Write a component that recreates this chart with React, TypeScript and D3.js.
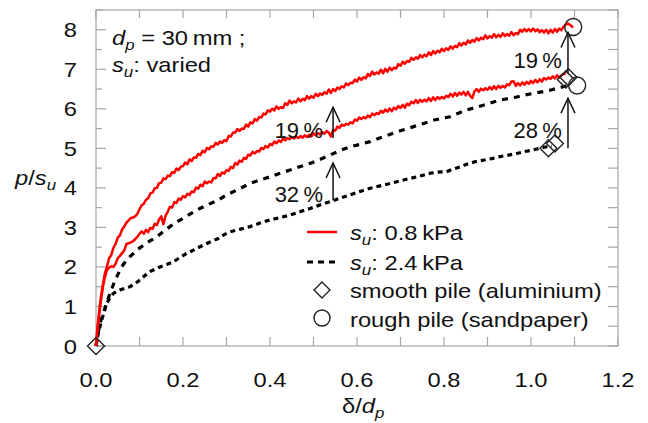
import React from "react";
import * as d3 from "d3";

const W = 648;
const H = 423;
const FONT = "'Liberation Sans', Arial, sans-serif";
const SX = 1.13; // horizontal stretch of the text in the reference

const xTicks = [0, 0.2, 0.4, 0.6, 0.8, 1.0, 1.2];
const yTicks = [0, 1, 2, 3, 4, 5, 6, 7, 8];

// su = 0.8 kPa, rough pile (sandpaper)
const redRough: [number, number][] = [[0,0],[0.004,0.55],[0.008,0.95],[0.012,1.3],[0.016,1.55],[0.02,1.82],[0.025,2.0],[0.03,2.22],[0.035,2.3],[0.04,2.48],[0.045,2.58],[0.05,2.74],[0.055,2.8],[0.06,2.95],[0.065,3.02],[0.07,3.12],[0.075,3.18],[0.08,3.24],[0.085,3.25],[0.09,3.28],[0.095,3.34],[0.1,3.46],[0.105,3.56],[0.11,3.6],[0.115,3.7],[0.12,3.74],[0.125,3.86],[0.13,3.88],[0.135,3.99],[0.14,4.0],[0.145,4.12],[0.15,4.13],[0.155,4.24],[0.16,4.22],[0.165,4.31],[0.17,4.3],[0.175,4.4],[0.18,4.38],[0.185,4.49],[0.19,4.45],[0.195,4.54],[0.2,4.55],[0.205,4.64],[0.21,4.6],[0.215,4.72],[0.22,4.68],[0.225,4.77],[0.23,4.76],[0.235,4.86],[0.24,4.83],[0.245,4.94],[0.25,4.9],[0.255,5.01],[0.26,4.98],[0.265,5.05],[0.27,5.04],[0.275,5.14],[0.28,5.1],[0.285,5.17],[0.29,5.14],[0.295,5.21],[0.3,5.18],[0.305,5.31],[0.31,5.3],[0.315,5.4],[0.32,5.4],[0.325,5.49],[0.33,5.44],[0.335,5.5],[0.34,5.49],[0.345,5.6],[0.35,5.55],[0.355,5.66],[0.36,5.63],[0.365,5.74],[0.37,5.7],[0.375,5.79],[0.38,5.78],[0.385,5.88],[0.39,5.86],[0.395,5.96],[0.4,5.93],[0.405,6.0],[0.41,5.96],[0.415,6.06],[0.42,6.0],[0.425,6.04],[0.43,6.02],[0.435,6.14],[0.44,6.1],[0.445,6.21],[0.45,6.14],[0.455,6.19],[0.46,6.16],[0.465,6.26],[0.47,6.19],[0.475,6.25],[0.48,6.22],[0.485,6.32],[0.49,6.26],[0.495,6.32],[0.5,6.28],[0.505,6.38],[0.51,6.32],[0.515,6.39],[0.52,6.35],[0.525,6.42],[0.53,6.38],[0.535,6.49],[0.54,6.4],[0.545,6.5],[0.55,6.45],[0.555,6.54],[0.56,6.5],[0.565,6.57],[0.57,6.54],[0.575,6.64],[0.58,6.6],[0.585,6.66],[0.59,6.65],[0.595,6.74],[0.6,6.69],[0.605,6.79],[0.61,6.73],[0.615,6.8],[0.62,6.77],[0.625,6.88],[0.63,6.83],[0.635,6.94],[0.64,6.87],[0.645,6.92],[0.65,6.89],[0.655,6.99],[0.66,6.9],[0.665,7.01],[0.67,6.94],[0.675,7.04],[0.68,6.98],[0.685,7.04],[0.69,7.02],[0.695,7.13],[0.7,7.09],[0.705,7.19],[0.71,7.14],[0.715,7.21],[0.72,7.19],[0.725,7.29],[0.73,7.24],[0.735,7.3],[0.74,7.27],[0.745,7.36],[0.75,7.3],[0.755,7.37],[0.76,7.33],[0.765,7.43],[0.77,7.36],[0.775,7.46],[0.78,7.4],[0.785,7.47],[0.79,7.43],[0.795,7.52],[0.8,7.46],[0.805,7.53],[0.81,7.49],[0.815,7.58],[0.82,7.52],[0.825,7.59],[0.83,7.56],[0.835,7.66],[0.84,7.6],[0.845,7.67],[0.85,7.63],[0.855,7.73],[0.86,7.67],[0.865,7.74],[0.87,7.7],[0.875,7.79],[0.88,7.73],[0.885,7.8],[0.89,7.76],[0.895,7.86],[0.9,7.78],[0.905,7.84],[0.91,7.8],[0.915,7.89],[0.92,7.81],[0.925,7.87],[0.93,7.82],[0.935,7.91],[0.94,7.84],[0.945,7.89],[0.95,7.85],[0.955,7.94],[0.96,7.86],[0.965,7.92],[0.97,7.89],[0.975,8.0],[0.98,7.95],[0.985,8.02],[0.99,7.96],[0.995,8.02],[1.0,7.96],[1.005,8.03],[1.01,7.96],[1.015,8.01],[1.02,7.94],[1.025,7.99],[1.03,7.93],[1.035,8.0],[1.04,7.91],[1.045,8.0],[1.05,7.93],[1.055,8.02],[1.06,7.95],[1.065,8.03],[1.07,7.99],[1.075,8.08],[1.08,8.13],[1.085,8.16],[1.09,8.12],[1.097,8.06]];

// su = 0.8 kPa, smooth pile (aluminium)
const redSmooth: [number, number][] = [[0,0],[0.004,0.45],[0.008,0.85],[0.012,1.2],[0.016,1.5],[0.02,1.72],[0.025,1.92],[0.03,1.98],[0.035,2.02],[0.04,2.0],[0.045,2.08],[0.05,2.22],[0.055,2.28],[0.06,2.35],[0.065,2.42],[0.07,2.58],[0.075,2.6],[0.08,2.62],[0.085,2.65],[0.09,2.7],[0.095,2.76],[0.1,2.84],[0.105,2.9],[0.11,2.84],[0.115,2.94],[0.12,2.88],[0.125,2.99],[0.13,2.96],[0.135,3.09],[0.14,3.06],[0.145,3.2],[0.15,3.28],[0.155,3.08],[0.16,3.3],[0.165,3.4],[0.17,3.52],[0.175,3.5],[0.18,3.64],[0.185,3.62],[0.19,3.73],[0.195,3.7],[0.2,3.79],[0.205,3.76],[0.21,3.85],[0.215,3.82],[0.22,3.91],[0.225,3.89],[0.23,4.01],[0.235,3.98],[0.24,4.08],[0.245,4.04],[0.25,4.16],[0.255,4.12],[0.26,4.16],[0.265,4.14],[0.27,4.25],[0.275,4.24],[0.28,4.35],[0.285,4.3],[0.29,4.39],[0.295,4.36],[0.3,4.45],[0.305,4.43],[0.31,4.53],[0.315,4.5],[0.32,4.63],[0.325,4.59],[0.33,4.69],[0.335,4.66],[0.34,4.76],[0.345,4.73],[0.35,4.84],[0.355,4.82],[0.36,4.91],[0.365,4.87],[0.37,4.93],[0.375,4.92],[0.38,5.01],[0.385,4.98],[0.39,5.06],[0.395,5.02],[0.4,5.11],[0.405,5.08],[0.41,5.17],[0.415,5.13],[0.42,5.2],[0.425,5.16],[0.43,5.25],[0.435,5.2],[0.44,5.26],[0.445,5.23],[0.45,5.29],[0.455,5.25],[0.46,5.3],[0.465,5.26],[0.47,5.31],[0.475,5.27],[0.48,5.33],[0.485,5.29],[0.49,5.34],[0.495,5.3],[0.5,5.38],[0.505,5.33],[0.51,5.39],[0.515,5.35],[0.52,5.41],[0.525,5.37],[0.53,5.44],[0.535,5.4],[0.54,5.3],[0.545,5.46],[0.55,5.45],[0.555,5.55],[0.56,5.52],[0.565,5.6],[0.57,5.57],[0.575,5.62],[0.58,5.6],[0.585,5.66],[0.59,5.63],[0.595,5.73],[0.6,5.7],[0.605,5.78],[0.61,5.74],[0.615,5.79],[0.62,5.76],[0.625,5.83],[0.63,5.79],[0.635,5.88],[0.64,5.84],[0.645,5.89],[0.65,5.87],[0.655,5.95],[0.66,5.9],[0.665,5.98],[0.67,5.93],[0.675,6.01],[0.68,5.94],[0.685,6.03],[0.69,5.99],[0.695,6.07],[0.7,6.02],[0.705,6.1],[0.71,6.03],[0.715,6.13],[0.72,6.09],[0.725,6.18],[0.73,6.14],[0.735,6.22],[0.74,6.15],[0.745,6.23],[0.75,6.18],[0.755,6.23],[0.76,6.19],[0.765,6.27],[0.77,6.2],[0.775,6.29],[0.78,6.22],[0.785,6.3],[0.79,6.25],[0.795,6.3],[0.8,6.26],[0.805,6.33],[0.81,6.3],[0.815,6.38],[0.82,6.31],[0.825,6.4],[0.83,6.33],[0.835,6.41],[0.84,6.36],[0.845,6.43],[0.85,6.34],[0.855,6.43],[0.86,6.33],[0.865,6.27],[0.87,6.44],[0.875,6.5],[0.88,6.43],[0.885,6.51],[0.89,6.47],[0.895,6.52],[0.9,6.48],[0.905,6.55],[0.91,6.49],[0.915,6.57],[0.92,6.5],[0.925,6.58],[0.93,6.53],[0.935,6.58],[0.94,6.54],[0.945,6.62],[0.95,6.6],[0.955,6.69],[0.96,6.7],[0.965,6.58],[0.97,6.65],[0.975,6.59],[0.98,6.67],[0.985,6.61],[0.99,6.68],[0.995,6.63],[1.0,6.71],[1.005,6.65],[1.01,6.73],[1.015,6.67],[1.02,6.75],[1.025,6.69],[1.03,6.78],[1.035,6.74],[1.04,6.79],[1.045,6.76],[1.05,6.82],[1.055,6.77],[1.06,6.85],[1.065,6.79],[1.07,6.85],[1.075,6.88],[1.08,6.9]];

// su = 2.4 kPa, rough pile
const blackRough: [number, number][] = [[0,0],[0.004,0.3],[0.008,0.5],[0.012,0.68],[0.017,0.83],[0.021,0.97],[0.025,1.1],[0.032,1.33],[0.038,1.5],[0.044,1.67],[0.05,1.8],[0.055,1.92],[0.062,2.05],[0.07,2.17],[0.078,2.26],[0.086,2.34],[0.097,2.45],[0.109,2.55],[0.124,2.66],[0.14,2.76],[0.155,2.9],[0.17,3.02],[0.185,3.13],[0.2,3.23],[0.22,3.36],[0.239,3.48],[0.26,3.59],[0.281,3.69],[0.3,3.82],[0.33,3.98],[0.354,4.11],[0.377,4.2],[0.4,4.28],[0.423,4.37],[0.446,4.45],[0.47,4.54],[0.492,4.62],[0.515,4.72],[0.538,4.83],[0.56,4.94],[0.584,5.04],[0.607,5.1],[0.63,5.17],[0.657,5.28],[0.683,5.38],[0.707,5.47],[0.73,5.55],[0.753,5.63],[0.775,5.71],[0.795,5.76],[0.814,5.8],[0.833,5.89],[0.852,5.97],[0.871,6.03],[0.89,6.09],[0.91,6.16],[0.929,6.22],[0.948,6.26],[0.967,6.3],[0.986,6.35],[1.005,6.39],[1.025,6.43],[1.044,6.47],[1.06,6.52],[1.074,6.56],[1.09,6.6]];

// su = 2.4 kPa, smooth pile
const blackSmooth: [number, number][] = [[0,0],[0.004,0.25],[0.009,0.49],[0.013,0.65],[0.017,0.8],[0.021,0.95],[0.025,1.08],[0.032,1.22],[0.04,1.33],[0.047,1.38],[0.055,1.42],[0.066,1.46],[0.078,1.5],[0.09,1.58],[0.101,1.67],[0.112,1.78],[0.124,1.88],[0.135,1.94],[0.147,2.0],[0.162,2.06],[0.178,2.13],[0.193,2.24],[0.208,2.34],[0.223,2.42],[0.239,2.51],[0.26,2.62],[0.281,2.72],[0.295,2.82],[0.308,2.89],[0.33,2.95],[0.354,3.02],[0.377,3.11],[0.4,3.19],[0.423,3.25],[0.446,3.31],[0.47,3.4],[0.492,3.48],[0.515,3.57],[0.538,3.65],[0.56,3.74],[0.584,3.82],[0.607,3.91],[0.63,3.99],[0.653,4.05],[0.676,4.11],[0.7,4.18],[0.722,4.24],[0.745,4.3],[0.768,4.37],[0.787,4.4],[0.806,4.41],[0.82,4.47],[0.837,4.53],[0.852,4.6],[0.871,4.66],[0.89,4.7],[0.91,4.74],[0.929,4.79],[0.948,4.83],[0.967,4.87],[0.986,4.92],[1.005,4.96],[1.02,5.0],[1.036,5.04],[1.048,5.06]];

const smoothMarkers: [number, number][] = [[0, 0], [1.08, 6.74], [1.086, 6.8], [1.04, 5.0], [1.055, 5.12]];
const roughMarkers: [number, number][] = [[1.097, 8.07], [1.106, 6.59]];

// arrows: x, from y, to y, label, label x (right end), label baseline y
const arrowX = [0.545, 0.545, 1.085, 1.085];
const arrowFrom = [5.26, 3.69, 6.9, 5.0];
const arrowTo = [6.04, 4.63, 7.93, 6.27];
const arrowLabels = ["19\u2009%", "32\u2009%", "19\u2009%", "28\u2009%"];
const labelX = [0.522, 0.522, 1.071, 1.071];
const labelY = [5.26, 3.64, 7.03, 5.26];

const ML = 96, MR = 618, MT = 10, MB = 346;

type TProps = { x: number; y: number; anchor?: string; size?: number; children: React.ReactNode };
function T({ x, y, anchor = "start", size = 21, children }: TProps) {
  return (
    <g transform={`translate(${x},${y}) scale(${SX},1)`}>
      <text x={0} y={0} textAnchor={anchor} fontSize={size} fill="#111">
        {children}
      </text>
    </g>
  );
}

export default function App() {
  const x = d3.scaleLinear().domain([0, 1.2]).range([ML, MR]);
  const y = d3.scaleLinear().domain([0, 8.5]).range([MB, MT]);
  const line = d3.line<[number, number]>().x((d) => x(d[0])).y((d) => y(d[1]));

  const xMinor = d3.range(0, 13).map((i) => i / 10);
  const yMinor = d3.range(0, 18).map((i) => i / 2);
  const axisCol = "#a6a6a6";

  const diamond = (cx: number, cy: number, r: number) =>
    `M${cx},${cy - r}L${cx + r},${cy}L${cx},${cy + r}L${cx - r},${cy}Z`;

  return (
    <svg width={W} height={H} style={{ position: "absolute", left: 0, top: 0, background: "#fff" }} fontFamily={FONT}>
      <rect x={0} y={0} width={W} height={H} fill="#fff" />
      {/* frame */}
      <rect x={ML} y={MT} width={MR - ML} height={MB - MT} fill="none" stroke={axisCol} strokeWidth={1.2} />
      {xMinor.map((t, i) => (
        <g key={"xt" + i} stroke={axisCol} strokeWidth={1.2}>
          <line x1={x(t)} x2={x(t)} y1={MB} y2={MB - 9} />
          <line x1={x(t)} x2={x(t)} y1={MT} y2={MT + 8} />
        </g>
      ))}
      {yMinor.map((t, i) => (
        <g key={"yt" + i} stroke={axisCol} strokeWidth={1.2}>
          <line x1={ML} x2={ML + (Number.isInteger(t) ? 10 : 6)} y1={y(t)} y2={y(t)} />
          <line x1={MR} x2={MR - 10} y1={y(t)} y2={y(t)} />
        </g>
      ))}
      {xTicks.map((t) => (
        <T key={"xl" + t} x={x(t)} y={387} anchor="middle">
          {t.toFixed(1)}
        </T>
      ))}
      {yTicks.map((t) => (
        <T key={"yl" + t} x={77} y={y(t) + 7.5} anchor="end">
          {t}
        </T>
      ))}
      {/* axis titles */}
      <T x={15} y={185}>
        <tspan fontStyle="italic">p</tspan>
        <tspan>/</tspan>
        <tspan fontStyle="italic">s</tspan>
        <tspan fontStyle="italic" fontSize={15} dy={5}>u</tspan>
      </T>
      <T x={342} y={413}>
        <tspan>δ/</tspan>
        <tspan fontStyle="italic">d</tspan>
        <tspan fontStyle="italic" fontSize={15} dy={5}>p</tspan>
      </T>
      {/* annotation */}
      <T x={112} y={45}>
        <tspan fontStyle="italic">d</tspan>
        <tspan fontStyle="italic" fontSize={15} dy={5}>p</tspan>
        <tspan dy={-5}>{" = 30\u2009mm ;"}</tspan>
      </T>
      <T x={112} y={72}>
        <tspan fontStyle="italic">s</tspan>
        <tspan fontStyle="italic" fontSize={15} dy={5}>u</tspan>
        <tspan dy={-5}>: varied</tspan>
      </T>

      {/* curves */}
      <path d={line(blackSmooth) ?? ""} fill="none" stroke="#000" strokeWidth={3.2} strokeDasharray="5,4" />
      <path d={line(blackRough) ?? ""} fill="none" stroke="#000" strokeWidth={3.2} strokeDasharray="6,6" />
      <path d={line(redSmooth) ?? ""} fill="none" stroke="#ff0000" strokeWidth={2.5} strokeLinejoin="round" />
      <path d={line(redRough) ?? ""} fill="none" stroke="#ff0000" strokeWidth={2.5} strokeLinejoin="round" />

      {/* markers */}
      {smoothMarkers.map((d, i) => (
        <path key={"sm" + i} d={diamond(x(d[0]), y(d[1]), 8.5)} fill="none" stroke="#222" strokeWidth={1.4} />
      ))}
      {roughMarkers.map((d, i) => (
        <circle key={"rm" + i} cx={x(d[0])} cy={y(d[1])} r={8.5} fill="none" stroke="#222" strokeWidth={1.4} />
      ))}

      {/* arrows */}
      {arrowX.map((ax, i) => {
        const px = x(ax);
        const y0 = y(arrowFrom[i]);
        const y1 = y(arrowTo[i]);
        return (
          <g key={"ar" + i} stroke="#111" strokeWidth={1.5} fill="none">
            <line x1={px} x2={px} y1={y0} y2={y1} />
            <path d={`M${px - 7},${y1 + 15}L${px},${y1}L${px + 7},${y1 + 15}`} />
          </g>
        );
      })}
      {arrowLabels.map((s, i) => (
        <text key={"al" + i} x={x(labelX[i])} y={y(labelY[i])} textAnchor="end" fontSize={22} fill="#111">
          {s}
        </text>
      ))}

      {/* legend */}
      <line x1={307} x2={337} y1={232} y2={232} stroke="#ff0000" strokeWidth={2.5} />
      <T x={350} y={240}>
        <tspan fontStyle="italic">s</tspan>
        <tspan fontStyle="italic" fontSize={15} dy={5}>u</tspan>
        <tspan dy={-5}>{": 0.8\u2009kPa"}</tspan>
      </T>
      <line x1={307} x2={337} y1={262} y2={262} stroke="#000" strokeWidth={3} strokeDasharray="6,5" />
      <T x={350} y={270}>
        <tspan fontStyle="italic">s</tspan>
        <tspan fontStyle="italic" fontSize={15} dy={5}>u</tspan>
        <tspan dy={-5}>{": 2.4\u2009kPa"}</tspan>
      </T>
      <path d={diamond(322, 290, 8)} fill="none" stroke="#222" strokeWidth={1.4} />
      <T x={350} y={298}>smooth pile (aluminium)</T>
      <circle cx={322} cy={318} r={8} fill="none" stroke="#222" strokeWidth={1.4} />
      <T x={350} y={327}>rough pile (sandpaper)</T>
    </svg>
  );
}
